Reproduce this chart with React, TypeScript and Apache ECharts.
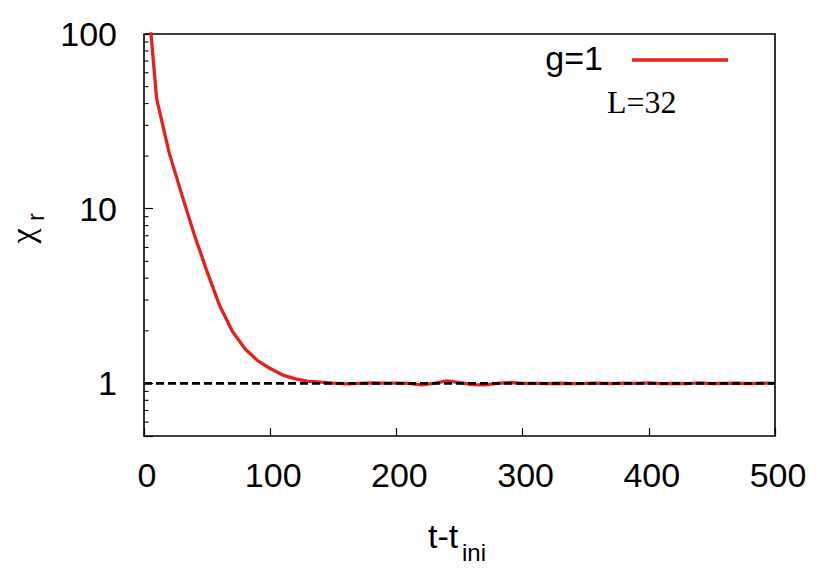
import React, { useEffect, useRef } from "react";
import * as echarts from "echarts";

const tValues = [
  0, 10, 20, 30, 40, 50, 60, 70, 80, 90, 100, 110, 120, 130, 140, 150, 160, 170, 180, 190,
  200, 210, 220, 230, 240, 250, 260, 270, 280, 290, 300, 310, 320, 330, 340, 350, 360, 370,
  380, 390, 400, 410, 420, 430, 440, 450, 460, 470, 480, 490, 500,
];
const chiValues = [
  290, 42.7, 20.8, 12.0, 7.05, 4.36, 2.78, 1.99, 1.58, 1.35, 1.216, 1.116, 1.061, 1.028, 1.017,
  1.005, 0.995, 1.0, 1.008, 1.003, 1.005, 1.0, 0.98, 1.0, 1.035, 1.01, 0.985, 0.98, 1.0, 1.012,
  1.0, 1.0, 0.997, 1.002, 0.998, 1.0, 1.005, 0.998, 1.003, 1.0, 1.006, 0.998, 1.0, 0.996, 1.006,
  0.996, 1.0, 1.002, 0.996, 1.003, 1.0,
];
const refT = [0, 500];
const refValues = [1, 1];
const yTickLabels = ["1", "10", "100"];
const yMinorTicks = [0.6, 0.7, 0.8, 0.9, 2, 3, 4, 5, 6, 7, 8, 9, 20, 30, 40, 50, 60, 70, 80, 90];
const seriesName = "g=1";
const subLabel = "L=32";

const SANS = "Liberation Sans";

export default function App() {
  const ref = useRef<HTMLDivElement>(null);
  useEffect(() => {
    const chart = echarts.init(ref.current!, undefined, { renderer: "svg" });
    chart.setOption({
      animation: false,
      backgroundColor: "#fff",
      grid: {
        left: 144,
        right: 48,
        top: 34,
        bottom: 148,
        show: true,
        borderColor: "#000",
        borderWidth: 1.6,
        containLabel: false,
        outerBoundsMode: "none",
      },
      xAxis: {
        type: "value",
        min: 0,
        max: 500,
        interval: 100,
        axisLine: { show: false },
        splitLine: { show: false },
        axisTick: { show: true, inside: true, length: 8, lineStyle: { color: "#000", width: 1.2 } },
        axisLabel: {
          fontSize: 34,
          fontFamily: SANS,
          color: "#000",
          margin: 22,
          padding: [0, 0, 0, 6],
        },
      },
      yAxis: {
        type: "log",
        logBase: 10,
        min: 0.5,
        max: 100,
        axisLine: { show: false },
        splitLine: { show: false },
        axisTick: { show: true, inside: true, length: 9, lineStyle: { color: "#000", width: 1.2 } },
        axisLabel: {
          fontSize: 34,
          fontFamily: SANS,
          color: "#000",
          margin: 27,
          formatter: (v: number) => {
            const s = String(Math.round(v * 1000) / 1000);
            return yTickLabels.includes(s) ? s : "";
          },
        },
      },
      series: [
        {
          type: "line",
          name: "ref",
          data: refT.map((t, i) => [t, refValues[i]]),
          symbol: "none",
          lineStyle: { color: "#000", width: 2.8, type: [8, 4] },
          z: 3,
        },
        {
          type: "line",
          name: seriesName,
          data: tValues.map((t, i) => [t, chiValues[i]]),
          symbol: "none",
          clip: true,
          lineStyle: { color: "#e8201a", width: 3.3 },
          z: 2,
        },
        {
          type: "custom",
          name: "minorTicks",
          data: yMinorTicks.map((v) => [0, v]),
          clip: false,
          renderItem: (params: any, api: any) => {
            const p = api.coord([0, api.value(1)]);
            return {
              type: "line",
              shape: { x1: p[0], y1: p[1], x2: p[0] + 4.5, y2: p[1] },
              style: { stroke: "#000", lineWidth: 1.1 },
            };
          },
          z: 4,
        },
      ],
      graphic: [
        {
          type: "text",
          x: 603,
          y: 58,
          style: {
            text: seriesName,
            font: `34px "${SANS}"`,
            fill: "#000",
            textAlign: "right",
            textVerticalAlign: "middle",
          },
        },
        {
          type: "line",
          shape: { x1: 632, y1: 60, x2: 728, y2: 60 },
          style: { stroke: "#e8201a", lineWidth: 3.3 },
        },
        {
          type: "text",
          x: 607,
          y: 102,
          style: {
            text: subLabel,
            font: `32px "Liberation Serif"`,
            fill: "#000",
            textAlign: "left",
            textVerticalAlign: "middle",
          },
        },
        {
          type: "text",
          x: 428,
          y: 536,
          style: {
            text: "t-t",
            font: `34px "${SANS}"`,
            fill: "#000",
            textAlign: "left",
            textVerticalAlign: "middle",
          },
        },
        {
          type: "text",
          x: 462,
          y: 552,
          style: {
            text: "ini",
            font: `24px "${SANS}"`,
            fill: "#000",
            textAlign: "left",
            textVerticalAlign: "middle",
          },
        },
        {
          type: "text",
          x: 22,
          y: 236,
          rotation: Math.PI / 2,
          style: {
            text: "χ",
            font: `34px "Liberation Serif"`,
            fill: "#000",
            textAlign: "center",
            textVerticalAlign: "middle",
          },
        },
        {
          type: "text",
          x: 35,
          y: 221,
          rotation: Math.PI / 2,
          style: {
            text: "r",
            font: `24px "${SANS}"`,
            fill: "#000",
            textAlign: "left",
            textVerticalAlign: "middle",
          },
        },
      ],
    });
    return () => chart.dispose();
  }, []);
  return <div ref={ref} style={{ width: 823, height: 584, position: "absolute", left: 0, top: 0 }} />;
}
